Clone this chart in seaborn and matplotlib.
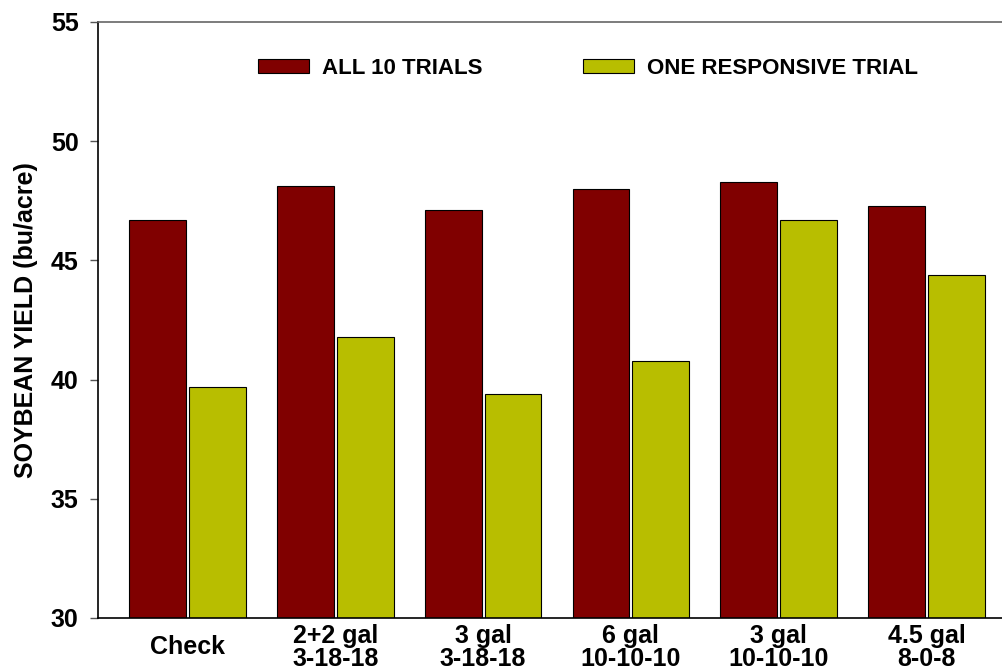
import matplotlib
matplotlib.use("Agg")
import matplotlib.pyplot as plt
import seaborn as sns
import pandas as pd

categories = ["Check", "2+2 gal\n3-18-18", "3 gal\n3-18-18", "6 gal\n10-10-10", "3 gal\n10-10-10", "4.5 gal\n8-0-8"]
series_names = ["ALL 10 TRIALS", "ONE RESPONSIVE TRIAL"]
all_trials = [46.7, 48.1, 47.1, 48.0, 48.3, 47.3]
one_trial = [39.7, 41.8, 39.4, 40.8, 46.7, 44.4]
y_ticks = [30, 35, 40, 45, 50, 55]

df = pd.DataFrame({
    "category": categories * 2,
    "series": [series_names[0]] * len(categories) + [series_names[1]] * len(categories),
    "value": all_trials + one_trial,
})

sns.set_style("white")
plt.rcParams['font.family'] = ['Liberation Sans', 'DejaVu Sans']
plt.rcParams['font.weight'] = 'bold'
plt.rcParams['text.color'] = 'black'
plt.rcParams['axes.labelcolor'] = 'black'
plt.rcParams['xtick.color'] = 'black'
plt.rcParams['ytick.color'] = 'black'

fig = plt.figure(figsize=(10.03, 6.70), dpi=100)
ax = fig.add_axes([98/1003, 1 - 618/670, 918/1003, (618-22)/670])

palette = {series_names[0]: "#800000", series_names[1]: "#B8BE00"}
sns.barplot(data=df, x="category", y="value", hue="series", order=categories,
            hue_order=series_names, palette=palette, width=0.81, gap=0.05,
            edgecolor="black", linewidth=0.8, saturation=1, ax=ax, legend=True)

ax.set_ylim(30, 55)
ax.set_xlim(-0.605, 5.605)
ax.set_yticks(y_ticks)
ax.set_yticklabels([str(t) for t in y_ticks], fontsize=18, fontweight='bold', color='black')
ax.set_xticks(range(len(categories)))
ax.set_xticklabels(categories, fontsize=18, fontweight='bold', linespacing=0.95,
                   va='center', color='black')
ax.tick_params(axis='y', direction='out', length=6, width=1, color='#555555', pad=8, left=True)
ax.tick_params(axis='x', length=0, pad=21)
ax.set_xlabel("")
ax.set_ylabel("SOYBEAN YIELD (bu/acre)", fontsize=18, fontweight='bold', labelpad=9, color='black')

for side in ["left", "bottom", "top"]:
    ax.spines[side].set_visible(True)
    ax.spines[side].set_linewidth(1.2)
ax.spines["left"].set_color("black")
ax.spines["bottom"].set_color("black")
ax.spines["top"].set_color("#666666")
ax.spines["right"].set_visible(False)

leg = ax.legend(loc="center left", bbox_to_anchor=(258/1003, 1 - 68/670),
                bbox_transform=fig.transFigure, ncol=2, frameon=False,
                borderpad=0, borderaxespad=0, handlelength=2.3, handleheight=0.6,
                handletextpad=0.6, columnspacing=4.5,
                prop={'size': 16, 'weight': 'bold'})
for t in leg.get_texts():
    t.set_color('black')

fig.savefig("out.png", dpi=100)
